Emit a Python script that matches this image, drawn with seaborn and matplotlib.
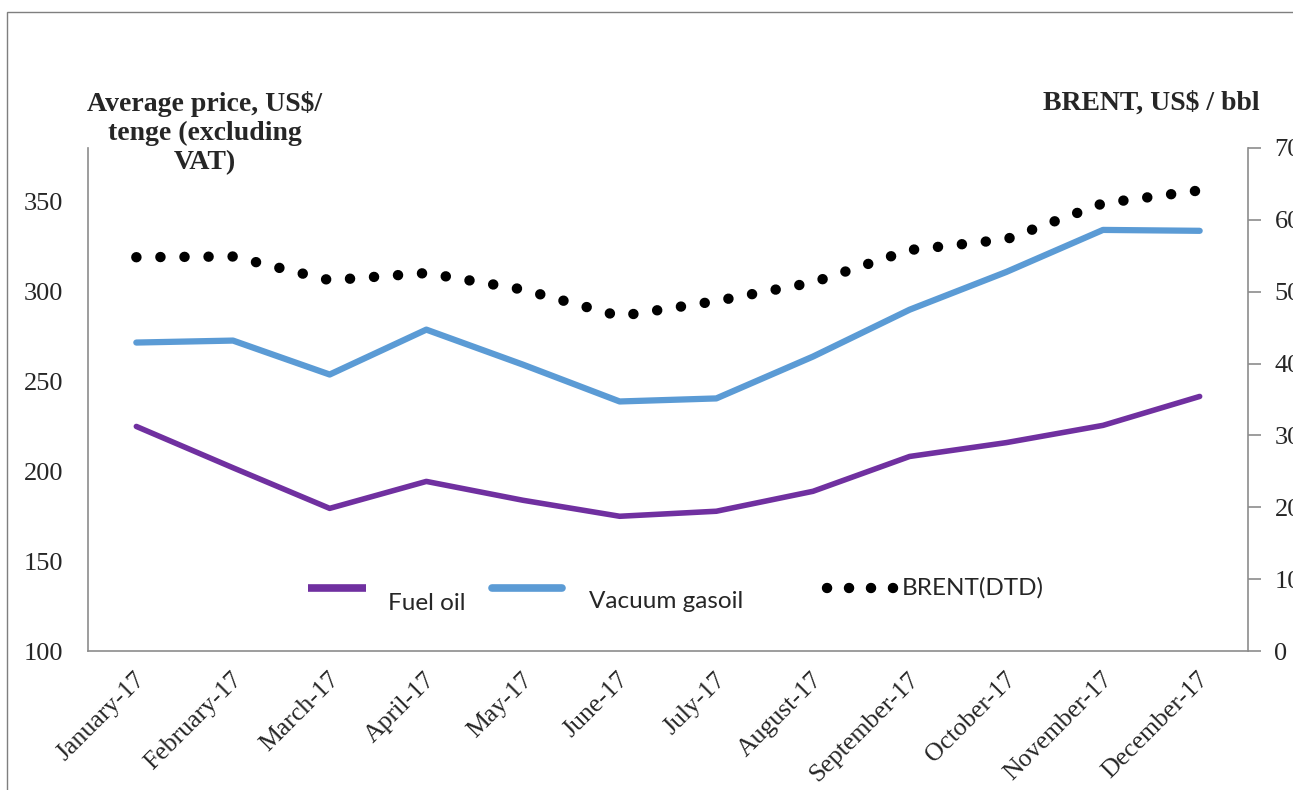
import numpy as np
import pandas as pd
import matplotlib
matplotlib.use("Agg")
import matplotlib.pyplot as plt
import matplotlib.transforms as mtransforms
from matplotlib.lines import Line2D
from matplotlib.patches import Rectangle
import seaborn as sns

months = ["January-17", "February-17", "March-17", "April-17", "May-17", "June-17",
          "July-17", "August-17", "September-17", "October-17", "November-17", "December-17"]
fuel_oil = [225.0, 202.0, 179.4, 194.4, 183.9, 175.0, 177.8, 188.9, 208.3, 216.0, 225.6, 241.7]
vacuum_gasoil = [271.7, 272.8, 253.9, 278.9, 259.4, 238.9, 240.6, 263.9, 290.0, 311.0, 334.4, 333.9]
brent = [54.8, 54.9, 51.6, 52.6, 50.3, 46.6, 48.7, 51.3, 55.8, 57.3, 62.3, 64.1]

left_ticks = [100, 150, 200, 250, 300, 350]
right_ticks = [0, 10, 20, 30, 40, 50, 60, 70]

PURPLE = "#7030A0"
BLUE = "#5B9BD5"
AXIS_GREY = "#8C8C8C"

sns.set_theme(style="white")
plt.rcParams["font.family"] = ["Liberation Serif", "DejaVu Serif"]

df = pd.DataFrame({"pos": np.arange(len(months)), "month": months,
                   "fuel": fuel_oil, "vgo": vacuum_gasoil, "brent": brent})

fig = plt.figure(figsize=(12.93, 7.90), dpi=100)
ax = fig.add_axes([88 / 1293, 1 - 651 / 790, (1248 - 88) / 1293, (651 - 148) / 790])
ax2 = ax.twinx()

sns.lineplot(data=df, x="pos", y="fuel", ax=ax, color=PURPLE, linewidth=4.0,
             solid_capstyle="round", solid_joinstyle="round")
sns.lineplot(data=df, x="pos", y="vgo", ax=ax, color=BLUE, linewidth=4.5,
             solid_capstyle="round", solid_joinstyle="round")
sns.lineplot(data=df, x="pos", y="brent", ax=ax2, color="black", linewidth=7.5,
             dashes=False)
brent_line = ax2.get_lines()[-1]
brent_line.set_linestyle((0, (0.01, 2.3)))
brent_line.set_dash_capstyle("round")

ax.set_xlim(-0.5, len(months) - 0.5)
ax.set_ylim(100, 380)
ax2.set_ylim(0, 70)

# category labels at centres, tick marks on boundaries
ax.set_xticks(df["pos"])
ax.set_xticklabels(months, rotation=45, ha="right", va="top", rotation_mode="anchor",
                   fontsize=18.5)
ax.tick_params(axis="x", which="major", length=0, pad=14)
shift = mtransforms.ScaledTranslation(-2 / 100, 2 / 100, fig.dpi_scale_trans)
for lab in ax.get_xticklabels():
    lab.set_transform(lab.get_transform() + shift)
ax.set_xticks(np.arange(-0.5, len(months), 1.0), minor=True)
ax.tick_params(axis="x", which="minor", length=9, width=1.2, direction="in", color=AXIS_GREY)

ax.set_yticks(left_ticks)
ax.tick_params(axis="y", length=0, pad=18, labelsize=19)
ax2.set_yticks(right_ticks)
ax2.tick_params(axis="y", length=9, width=1.2, direction="out", color=AXIS_GREY,
                pad=10, labelsize=19)

for a in (ax, ax2):
    a.set_xlabel("")
    a.set_ylabel("")
    a.spines["top"].set_visible(False)
    for s in ("left", "right", "bottom"):
        a.spines[s].set_color(AXIS_GREY)
        a.spines[s].set_linewidth(1.2)
ax.spines["right"].set_visible(False)
ax2.spines["left"].set_visible(False)
ax2.spines["bottom"].set_visible(False)

# axis titles
fig.text(205 / 1293, 1 - 133 / 790, "Average price, US$/\ntenge (excluding\nVAT)",
         ha="center", va="center", fontsize=20, fontweight="bold", linespacing=1.22)
fig.text(1260 / 1293, 1 - 103 / 790, "BRENT, US$ / bbl", ha="right", va="center",
         fontsize=20, fontweight="bold")

# legend
leg_font = ["Lato", "DejaVu Sans"]
fig.add_artist(Line2D([308 / 1293, 366 / 1293], [1 - 588 / 790] * 2, color=PURPLE,
                      linewidth=5.5, solid_capstyle="butt"))
fig.text(388 / 1293, 1 - 603 / 790, "Fuel oil", ha="left", va="center",
         fontsize=17.5, family=leg_font)
fig.add_artist(Line2D([492 / 1293, 562 / 1293], [1 - 588 / 790] * 2, color=BLUE,
                      linewidth=5.5, solid_capstyle="round"))
fig.text(589 / 1293, 1 - 601 / 790, "Vacuum gasoil", ha="left", va="center",
         fontsize=17.5, family=leg_font)
fig.add_artist(Line2D([827 / 1293, 896 / 1293], [1 - 588 / 790] * 2, color="black",
                      linewidth=7.5, linestyle=(0, (0.01, 2.1)), dash_capstyle="round"))
fig.text(902 / 1293, 1 - 588 / 790, "BRENT(DTD)", ha="left", va="center",
         fontsize=17.5, family=leg_font)

# chart frame
fig.add_artist(Rectangle((7 / 1293, -0.1), 1.2, 1.1 - 12 / 790, transform=fig.transFigure,
                         fill=False, edgecolor="#7F7F7F", linewidth=1.0))

fig.savefig("out.png", dpi=100)
